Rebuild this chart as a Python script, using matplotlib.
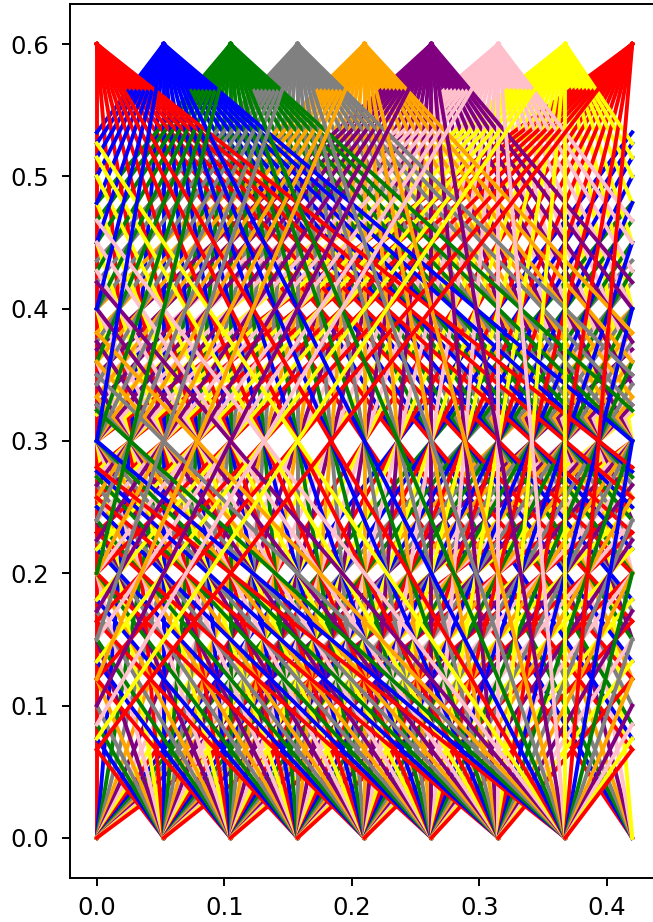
#!/usr/bin/env python3
"""Lines from a top row to a bottom row, wrapped round a period in x."""

import numpy as np
import matplotlib
matplotlib.use('Agg')
import matplotlib.pyplot as plt

# Node positions
top_x = [0.0, 0.0525, 0.105, 0.1575, 0.21, 0.2625, 0.315, 0.3675, 0.42]
top_colors = ['red', 'blue', 'green', 'gray', 'orange', 'purple', 'pink', 'yellow', 'red']
bottom_x = [0.0, 0.0525, 0.105, 0.1575, 0.21, 0.2625, 0.315, 0.3675]
windings = [1, 0, -1]
y_top = 0.6
y_bottom = 0.0
period = 0.42


def wrapped_pieces(x0, x1):
    """Split a top-to-bottom line where it leaves [0, period]."""
    if np.isclose(x0, x1):
        return [([x0, x0], [y_top, y_bottom])]
    slope = (y_bottom - y_top) / (x1 - x0)
    lo, hi = min(x0, x1), max(x0, x1)
    cuts = [k * period for k in range(-3, 5) if lo + 1e-9 < k * period < hi - 1e-9]
    xs = [x0] + (cuts if x1 > x0 else cuts[::-1]) + [x1]
    pieces = []
    for a, b in zip(xs[:-1], xs[1:]):
        shift = np.floor(min(a, b) / period + 1e-9) * period
        ya = y_top + slope * (a - x0)
        yb = y_top + slope * (b - x0)
        pieces.append(([a - shift, b - shift], [ya, yb]))
    return pieces


fig = plt.figure(figsize=(6.53, 9.22), dpi=100)
ax = fig.add_axes([70 / 653, 1 - 877.5 / 922, 589 / 653, 873 / 922])

for xb in bottom_x:
    for w in windings:
        target = xb + w * period
        for x0, color in zip(top_x, top_colors):
            # the two red ends of the top row are one node, seen from each side
            if x0 == 0.0 and target < -1e-9:
                continue
            if x0 == period and target > 0.4:
                continue
            for px, py in wrapped_pieces(x0, target):
                ax.plot(px, py, color=color, linewidth=2.8)

ax.set_xlim(-0.021, 0.441)
ax.set_ylim(-0.03, 0.63)
ax.set_xticks([0.0, 0.1, 0.2, 0.3, 0.4])
ax.set_yticks([0.0, 0.1, 0.2, 0.3, 0.4, 0.5, 0.6])
ax.tick_params(labelsize=17.5, length=6, width=1.4)
ax.tick_params(axis='x', pad=7)
ax.tick_params(axis='y', pad=9)
for spine in ax.spines.values():
    spine.set_linewidth(1.4)

plt.savefig('out.png', dpi=100)
